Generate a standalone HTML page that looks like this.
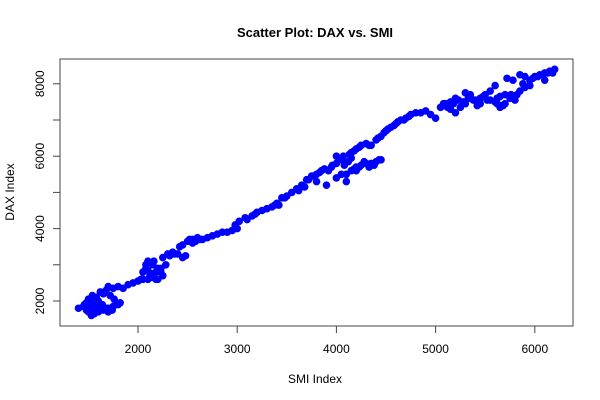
<!DOCTYPE html>
<html><head><meta charset="utf-8"><style>
body{margin:0;background:#fff;}
svg{display:block;font-family:"Liberation Sans",Arial,sans-serif;}
</style></head><body>
<svg id="chart" width="600" height="400" viewBox="0 0 600 400">
<text x="315" y="37" text-anchor="middle" font-size="13" font-weight="bold">Scatter Plot: DAX vs. SMI</text>
<rect x="60" y="59" width="513" height="267" fill="none" stroke="#444" stroke-width="1"/>
<text x="315" y="383" text-anchor="middle" font-size="12">SMI Index</text>
<text transform="translate(14,192) rotate(-90)" text-anchor="middle" font-size="12">DAX Index</text>
<g id="axes"></g>
<g id="pts"></g>
</svg>
<script>
const xTicks=[2000,3000,4000,5000,6000];
const yTicks=[2000,3000,4000,5000,6000,7000,8000];
const yLabels=["2000","","4000","","6000","","8000"];
const smi=[1400,1450,1480,1500,1520,1550,1560,1600,1650,1700,1750,1800,1820,1500,1530,1580,1600,1650,1680,1700,1750,1720,1760,1620,1540,1480,1600,1700,1560,1640,1680,1740,1780,1520,1460,
1800,1850,1900,1950,2000,2050,2100,2050,2080,2100,2150,2200,2250,2200,2150,2100,2250,2300,2350,2400,2450,2480,2420,2450,2500,2550,2600,2550,2650,2700,2750,2800,2850,2900,2950,3000,2980,3020,3080,3150,3200,3250,3300,3350,3400,3420,3450,3500,3550,3600,3650,3700,3750,3800,3850,3880,3800,3900,3950,4000,4050,4000,4050,4000,4100,4150,4200,4250,4300,4350,4400,4450,4150,4150,4200,4250,4300,4350,4400,4450,4500,4550,4600,4650,4700,4750,4800,4850,4900,4950,5000,5050,5100,5150,5200,5150,5200,5250,5300,5350,5400,5450,5350,5300,5450,5500,5550,5600,5650,5700,5750,5800,5700,5650,5600,5550,5720,5780,5850,5900,5950,6000,6050,6100,6150,6200,5850,5900,5950,6100,4100,4200,
2120,2180,2230,2280,2080,2130,2180,2230,2030,2160,2320,2370,2520,2580,2620,3100,3180,3380,3480,3620,3680,3720,3770,3830,3920,3960,4080,4120,4180,4230,4280,4330,4380,4430,4070,4130,4180,4230,4330,4420,4480,4520,4580,4620,4680,4730,5080,5120,5180,5230,5280,5330,5380,5420,5480,5520,5620,5680,5820,5880,5980,6030,6080,6130,6180,5760,5660,5620];
const dax=[1800,1850,1950,2050,1900,1750,1650,1700,1750,1800,1850,1900,1950,1700,1600,2100,2000,2200,2300,2400,2350,2150,2050,2250,2150,1750,1800,1700,1900,1900,1800,1750,1900,2000,1900,
2400,2350,2450,2500,2550,2600,2600,2800,3000,3100,3000,2900,2700,2600,2750,2850,3200,3300,3350,3300,3200,3250,3500,3550,3650,3700,3750,3600,3700,3750,3800,3850,3900,3900,3950,4000,4100,4200,4300,4350,4450,4500,4550,4600,4700,4650,4850,4900,5000,5100,5200,5350,5450,5500,5600,5650,5300,5200,5700,5800,5900,6000,5500,5400,5500,5600,5700,5750,5800,5800,5850,5900,5950,6100,6200,6300,6350,6300,6450,6550,6700,6800,6900,7000,7050,7150,7200,7200,7250,7150,7050,7350,7450,7500,7600,7300,7200,7350,7450,7600,7550,7450,7700,7750,7600,7700,7550,7500,7350,7450,7600,7550,7700,7650,7950,7800,8150,8100,8250,8200,8100,8200,8250,8300,8350,8400,7800,7900,7950,8100,5300,5600,
2700,2800,2900,3000,2900,2650,2600,2800,2600,3100,3250,3300,3700,3650,3700,4250,4400,4650,4850,5050,5150,5350,5450,5550,5600,5750,5750,5850,5650,5700,5850,5700,5750,5900,6000,6050,6150,6250,6300,6500,6650,6750,6850,6950,7000,7100,7450,7350,7450,7550,7500,7600,7550,7400,7650,7550,7450,7400,7700,8000,8150,8200,8250,8300,8300,7700,7400,7600];
const NS="http://www.w3.org/2000/svg";
function sx(v){return 138+(v-2000)*0.0992;}
function sy(v){return 301-(v-2000)*0.0362;}
const axes=document.getElementById('axes');
function el(t,a,p){const e=document.createElementNS(NS,t);for(const k in a)e.setAttribute(k,a[k]);p.appendChild(e);return e;}
xTicks.forEach(v=>{
  const t=el('line',{x1:sx(v),x2:sx(v),y1:326,y2:333,stroke:'#444'},axes);
  
  
  const l=el('text',{x:sx(v),y:353,'text-anchor':'middle','font-size':'12'},axes);
  l.textContent=v;
  
  
});
yTicks.forEach((v,i)=>{
  const t=el('line',{x1:53,x2:60,y1:sy(v),y2:sy(v),stroke:'#444'},axes);
  
  
  if(yLabels[i]){
    const l=el('text',{transform:`translate(44,${sy(v)}) rotate(-90)`,'text-anchor':'middle','font-size':'12'},axes);
    l.textContent=yLabels[i];
    
    
  }
});
const pts=document.getElementById('pts');
smi.forEach((v,i)=>{
  const c=el('circle',{cx:sx(v),cy:sy(dax[i]),r:3.8,fill:'#0000ff'},pts);
  
  
});
</script>
</body></html>
